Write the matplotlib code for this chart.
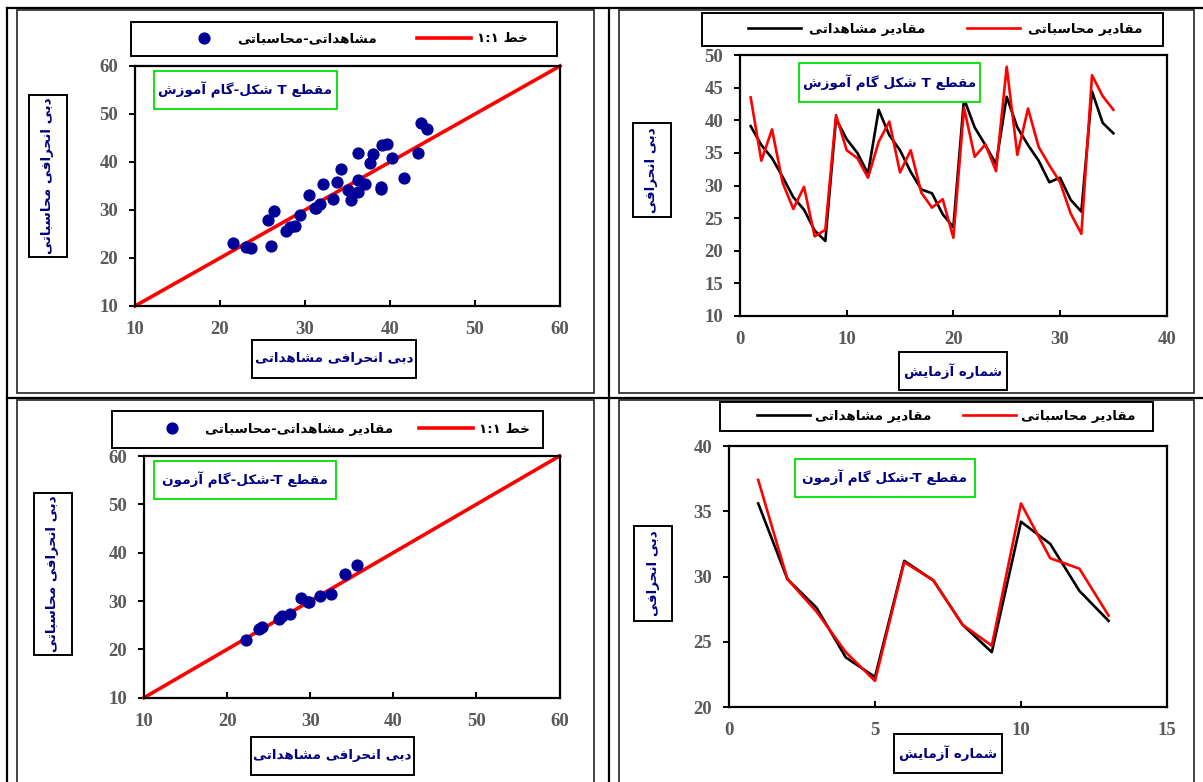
import numpy as np
import matplotlib
matplotlib.use('Agg')
import matplotlib.pyplot as plt
from matplotlib.patches import Rectangle
from matplotlib.lines import Line2D

# training step, T-shaped section (trial 1..35)
train_trial = list(range(1, 36))
train_obs = [39.1, 36.2, 34.2, 31.3, 28.2, 26.3, 23.1, 21.5, 40.2, 37.1,
             35.0, 31.8, 41.6, 37.7, 35.4, 32.1, 29.4, 28.8, 25.6, 23.6,
             43.3, 38.9, 36.2, 33.3, 43.6, 38.9, 36.2, 33.8, 30.5, 31.2,
             27.8, 26.0, 44.4, 39.6, 38.0]
train_calc = [43.5, 33.8, 38.6, 30.4, 26.4, 29.8, 22.2, 23.2, 40.8, 35.4,
              34.2, 31.2, 36.7, 39.8, 32.0, 35.4, 28.9, 26.6, 27.9, 22.0,
              41.9, 34.4, 36.3, 32.2, 48.2, 34.7, 41.8, 35.9, 33.1, 30.5,
              25.7, 22.6, 46.9, 43.7, 41.6]

# test step (trial 1..13)
test_trial = list(range(1, 14))
test_obs = [35.6, 29.8, 27.6, 23.8, 22.3, 31.2, 29.7, 26.3, 24.2, 34.2, 32.5, 28.9, 26.6]
test_calc = [37.4, 29.8, 27.3, 24.2, 22.0, 31.1, 29.7, 26.3, 24.7, 35.6, 31.4, 30.6, 27.0]

one_to_one = [10, 60]

# texts (logical order)
lbl_obs_calc = 'مشاهداتی-محاسباتی'
lbl_obs_calc2 = 'مقادیر مشاهداتی-محاسباتی'
lbl_line = 'خط ۱:۱'
lbl_obs = 'مقادیر مشاهداتی'
lbl_calc = 'مقادیر محاسباتی'
title_tl = 'مقطع T شکل-گام آموزش'
title_tr = 'مقطع T شکل گام آموزش'
title_bl = 'مقطع T-شکل-گام آزمون'
title_br = 'مقطع T-شکل گام آزمون'
ylab_sc = 'دبی انحرافی محاسباتی'
xlab_sc = 'دبی انحرافی مشاهداتی'
ylab_ln = 'دبی انحرافی'
xlab_ln = 'شماره آزمایش'

# matplotlib does no arabic shaping, so do it by hand with presentation forms
FORMS = {
    '\u0622': ('\uFE81', '\uFE82', None, None),
    '\u0627': ('\uFE8D', '\uFE8E', None, None),
    '\u0628': ('\uFE8F', '\uFE90', '\uFE91', '\uFE92'),
    '\u062A': ('\uFE95', '\uFE96', '\uFE97', '\uFE98'),
    '\u062D': ('\uFEA1', '\uFEA2', '\uFEA3', '\uFEA4'),
    '\u062E': ('\uFEA5', '\uFEA6', '\uFEA7', '\uFEA8'),
    '\u062F': ('\uFEA9', '\uFEAA', None, None),
    '\u0631': ('\uFEAD', '\uFEAE', None, None),
    '\u0632': ('\uFEAF', '\uFEB0', None, None),
    '\u0633': ('\uFEB1', '\uFEB2', '\uFEB3', '\uFEB4'),
    '\u0634': ('\uFEB5', '\uFEB6', '\uFEB7', '\uFEB8'),
    '\u0637': ('\uFEC1', '\uFEC2', '\uFEC3', '\uFEC4'),
    '\u0639': ('\uFEC9', '\uFECA', '\uFECB', '\uFECC'),
    '\u0641': ('\uFED1', '\uFED2', '\uFED3', '\uFED4'),
    '\u0642': ('\uFED5', '\uFED6', '\uFED7', '\uFED8'),
    '\u0644': ('\uFEDD', '\uFEDE', '\uFEDF', '\uFEE0'),
    '\u0645': ('\uFEE1', '\uFEE2', '\uFEE3', '\uFEE4'),
    '\u0646': ('\uFEE5', '\uFEE6', '\uFEE7', '\uFEE8'),
    '\u0647': ('\uFEE9', '\uFEEA', '\uFEEB', '\uFEEC'),
    '\u0648': ('\uFEED', '\uFEEE', None, None),
    '\u06CC': ('\uFEEF', '\uFEF0', '\uFEF3', '\uFEF4'),
    '\u06A9': ('\uFB8E', '\uFB8F', '\uFB90', '\uFB91'),
    '\u06AF': ('\uFB92', '\uFB93', '\uFB94', '\uFB95'),
}


def fa(s):
    s = s.replace('\u064A', '\u06CC').replace('\u0643', '\u06A9')
    out = []
    for i, ch in enumerate(s):
        if ch not in FORMS:
            out.append(ch)
            continue
        prev = s[i - 1] if i > 0 else None
        nxt = s[i + 1] if i + 1 < len(s) else None
        jp = prev in FORMS and FORMS[prev][2] is not None
        jn = FORMS[ch][2] is not None and nxt in FORMS
        iso, fin, ini, med = FORMS[ch]
        if jp and jn:
            out.append(med)
        elif jp:
            out.append(fin)
        elif jn:
            out.append(ini)
        else:
            out.append(iso)
    return ''.join(reversed(out))


W, H = 1203, 782
NAVY = '#000080'
TICKC = '#595959'
FA_FONT = ['DejaVu Sans']
FS = 9.7          # persian text size
FSPX = FS * 100 / 72.0

fig = plt.figure(figsize=(W / 100, H / 100), dpi=100)
fig.patch.set_facecolor('white')


def fx(x):
    return x / W


def fy(y):
    return 1 - y / H


def rect(x0, y0, x1, y1, ec='black', lw=1.4, fc='none', z=1):
    r = Rectangle((fx(x0), fy(y1)), fx(x1) - fx(x0), fy(y0) - fy(y1),
                  transform=fig.transFigure, fc=fc, ec=ec, lw=lw, zorder=z)
    fig.add_artist(r)


def fline(xs, ys, lw=2.0, color='black'):
    fig.add_artist(Line2D([fx(v) for v in xs], [fy(v) for v in ys],
                          transform=fig.transFigure, color=color, lw=lw))


def ftext(box, s, color=NAVY, rot=0):
    x = (box[0] + box[2]) / 2
    y = (box[1] + box[3]) / 2
    fig.text(fx(x), fy(y), fa(s), ha='center', va='center', rotation=rot,
             fontsize=FS, color=color, fontweight='bold', family=FA_FONT, zorder=5)


# table borders and chart frames
fline([7, 7], [8, 782], lw=1.6)
fline([7, 1203], [8, 8], lw=1.6)
fline([609, 609], [8, 782], lw=1.6)
fline([7, 1203], [398, 398], lw=1.6)
rect(17, 10, 594, 393, ec='#222222', lw=1.2)
rect(619, 10, 1194, 393, ec='#222222', lw=1.2)
rect(17, 400, 594, 790, ec='#222222', lw=1.2)
rect(619, 400, 1194, 790, ec='#222222', lw=1.2)


def make_ax(x0, y0, x1, y1):
    ax = fig.add_axes([fx(x0), fy(y1), fx(x1) - fx(x0), fy(y0) - fy(y1)])
    for sp in ax.spines.values():
        sp.set_linewidth(1.6)
        sp.set_color('black')
    ax.tick_params(axis='x', direction='in', length=4, width=1.4, pad=11, top=False)
    ax.tick_params(axis='y', direction='out', length=4, width=1.4, pad=8, right=False)
    return ax


def style_ticks(ax):
    for lab in ax.get_xticklabels() + ax.get_yticklabels():
        lab.set_family('Liberation Serif')
        lab.set_fontweight('bold')
        lab.set_fontsize(13.5)
        lab.set_color(TICKC)


def add_legend(handles, labels, start, cy, hl, pad, colsp):
    fig.legend(handles, [fa(t) for t in labels], loc='center left',
               bbox_to_anchor=(fx(start), fy(cy)), ncol=2, frameon=False,
               borderpad=0, borderaxespad=0, handlelength=hl / FSPX,
               handletextpad=pad / FSPX, columnspacing=colsp / FSPX, numpoints=1,
               prop={'family': FA_FONT, 'weight': 'bold', 'size': FS})


def scatter_panel(box, obs, calc, leg_lbl, leg_start, leg_cy, colsp, frame, title, tbox, ybox, xbox):
    ax = make_ax(*box)
    pts, = ax.plot(obs, calc, 'o', color='#000099', ms=7.8, ls='none', zorder=3)
    ln, = ax.plot(one_to_one, one_to_one, color='red', lw=2.6, zorder=2, clip_on=False)
    ax.set_xlim(10, 60)
    ax.set_ylim(10, 60)
    ax.set_xticks(np.arange(10, 61, 10))
    ax.set_yticks(np.arange(10, 61, 10))
    style_ticks(ax)
    rect(*frame, lw=1.4)
    add_legend([pts, ln], [leg_lbl, lbl_line], leg_start, leg_cy, 54, 6, colsp)
    rect(*tbox, ec='#00E000', lw=1.3, fc='white', z=4)
    ftext(tbox, title)
    rect(*ybox, lw=1.4, fc='white')
    ftext(ybox, ylab_sc, rot=90)
    rect(*xbox, lw=1.4, fc='white')
    ftext(xbox, xlab_sc)
    return ax


def line_panel(box, trial, obs, calc, xlim, xstep, ylim, ystep, leg_start, leg_cy, pad, colsp,
               frame, title, tbox, ybox, xbox):
    ax = make_ax(*box)
    l1, = ax.plot(trial, obs, color='black', lw=1.9)
    l2, = ax.plot(trial, calc, color='red', lw=1.9)
    ax.set_xlim(*xlim)
    ax.set_ylim(*ylim)
    ax.set_xticks(np.arange(xlim[0], xlim[1] + 1, xstep))
    ax.set_yticks(np.arange(ylim[0], ylim[1] + 1, ystep))
    style_ticks(ax)
    rect(*frame, lw=1.4)
    add_legend([l1, l2], [lbl_obs, lbl_calc], leg_start, leg_cy, 53, pad, colsp)
    rect(*tbox, ec='#00E000', lw=1.3, fc='white', z=4)
    ftext(tbox, title)
    rect(*ybox, lw=1.4, fc='white')
    ftext(ybox, ylab_ln, rot=90)
    rect(*xbox, lw=1.4, fc='white')
    ftext(xbox, xlab_ln)
    return ax


# top left: training scatter
scatter_panel((135, 66, 560, 306), train_obs, train_calc, lbl_obs_calc, 177, 39, 40,
              (131, 22, 557, 56), title_tl, (154, 71, 337, 109),
              (29, 95, 67, 257), (252, 340, 416, 378))

# top right: training series
line_panel((740, 55, 1166.7, 316), train_trial, train_obs, train_calc, (0, 40), 10, (10, 50), 5,
           748, 29.5, 8, 42, (702, 13, 1163, 46), title_tr, (799, 63, 980, 102),
           (633, 123, 671, 217), (899, 352, 1007, 390))

# bottom left: test scatter
scatter_panel((144, 456, 559.5, 697.7), test_obs, test_calc, lbl_obs_calc2, 145, 429.5, 26,
              (112, 411, 543, 448), title_bl, (154, 461, 336, 499),
              (34, 493, 72, 655), (251, 737, 414, 775))

# bottom right: test series
line_panel((729, 446, 1167, 707), test_trial, test_obs, test_calc, (0, 15), 5, (20, 40), 5,
           757, 416.5, 5, 32, (720, 402, 1153, 431), title_br, (795, 459, 975, 497),
           (634, 526, 672, 621), (894, 734, 1002, 773))

fig.savefig('out.png', dpi=100, facecolor='white')
